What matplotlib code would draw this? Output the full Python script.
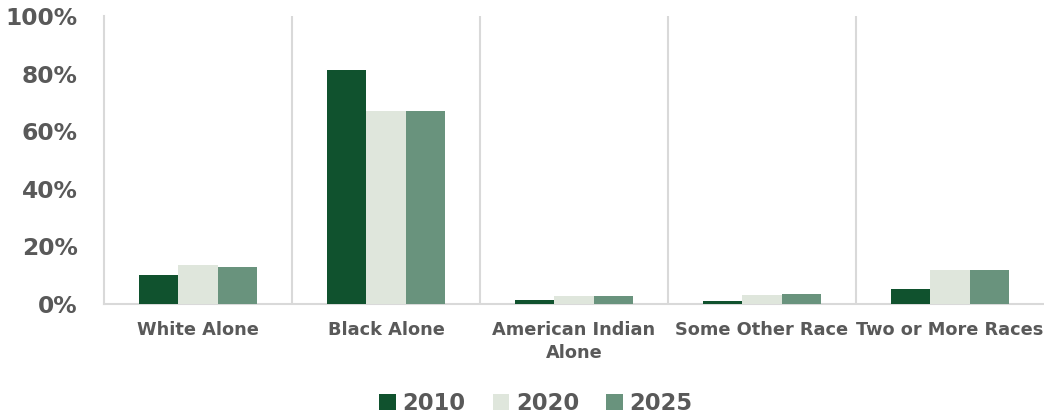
import matplotlib.pyplot as plt
import numpy as np
from matplotlib.patches import Patch

# Data (share of population, %)
categories = ["White Alone", "Black Alone", "American Indian\nAlone",
              "Some Other Race", "Two or More Races"]
years = ["2010", "2020", "2025"]
vals_2010 = [10.1, 81.4, 1.5, 0.9, 5.3]
vals_2020 = [13.5, 66.9, 2.8, 3.1, 11.7]
vals_2025 = [12.8, 67.1, 2.7, 3.5, 11.9]

colors = ["#10522E", "#DFE6DC", "#69937D"]
text_gray = "#595959"
grid_gray = "#D9D9D9"

plt.rcParams['font.family'] = ['DejaVu Sans']
plt.rcParams['font.weight'] = 'bold'

fig = plt.figure(figsize=(10.44, 4.17), dpi=100)
ax = fig.add_axes([104 / 1044, 113 / 417, 940 / 1044, 288 / 417])

x = np.arange(len(categories))
width = 0.21
series = [vals_2010, vals_2020, vals_2025]
for i, (vals, c) in enumerate(zip(series, colors)):
    ax.bar(x + (i - 1) * width, vals, width, color=c, edgecolor='none', zorder=3)

ax.set_xlim(-0.5, len(categories) - 0.5)
ax.set_ylim(0, 100)
ax.set_yticks(np.arange(0, 101, 20))
ax.set_yticklabels([f"{v}%" for v in range(0, 101, 20)])
ax.tick_params(axis='y', length=0, pad=19, labelsize=16.8, labelcolor=text_gray)

ax.set_xticks(x)
ax.set_xticklabels(categories, fontsize=12.8, color=text_gray, linespacing=1.35)
ax.tick_params(axis='x', which='major', length=0, pad=12)

# vertical separators between categories
ax.set_xticks(np.arange(0.5, len(categories) - 0.5, 1), minor=True)
ax.tick_params(axis='x', which='minor', length=0)
ax.grid(axis='x', which='minor', color=grid_gray, linewidth=1.5, zorder=0)
ax.grid(axis='x', which='major', visible=False)

for s in ['top', 'right']:
    ax.spines[s].set_visible(False)
for s in ['left', 'bottom']:
    ax.spines[s].set_color(grid_gray)
    ax.spines[s].set_linewidth(1.5)

handles = [Patch(facecolor=c, edgecolor='none') for c in colors]
fig.legend(handles, years, loc='center', bbox_to_anchor=(536 / 1044, 14 / 417),
           ncol=3, frameon=False, fontsize=16.3, handlelength=0.72,
           handleheight=0.72, handletextpad=0.3, columnspacing=1.2,
           labelcolor=text_gray)

fig.savefig("out.png", dpi=100)
